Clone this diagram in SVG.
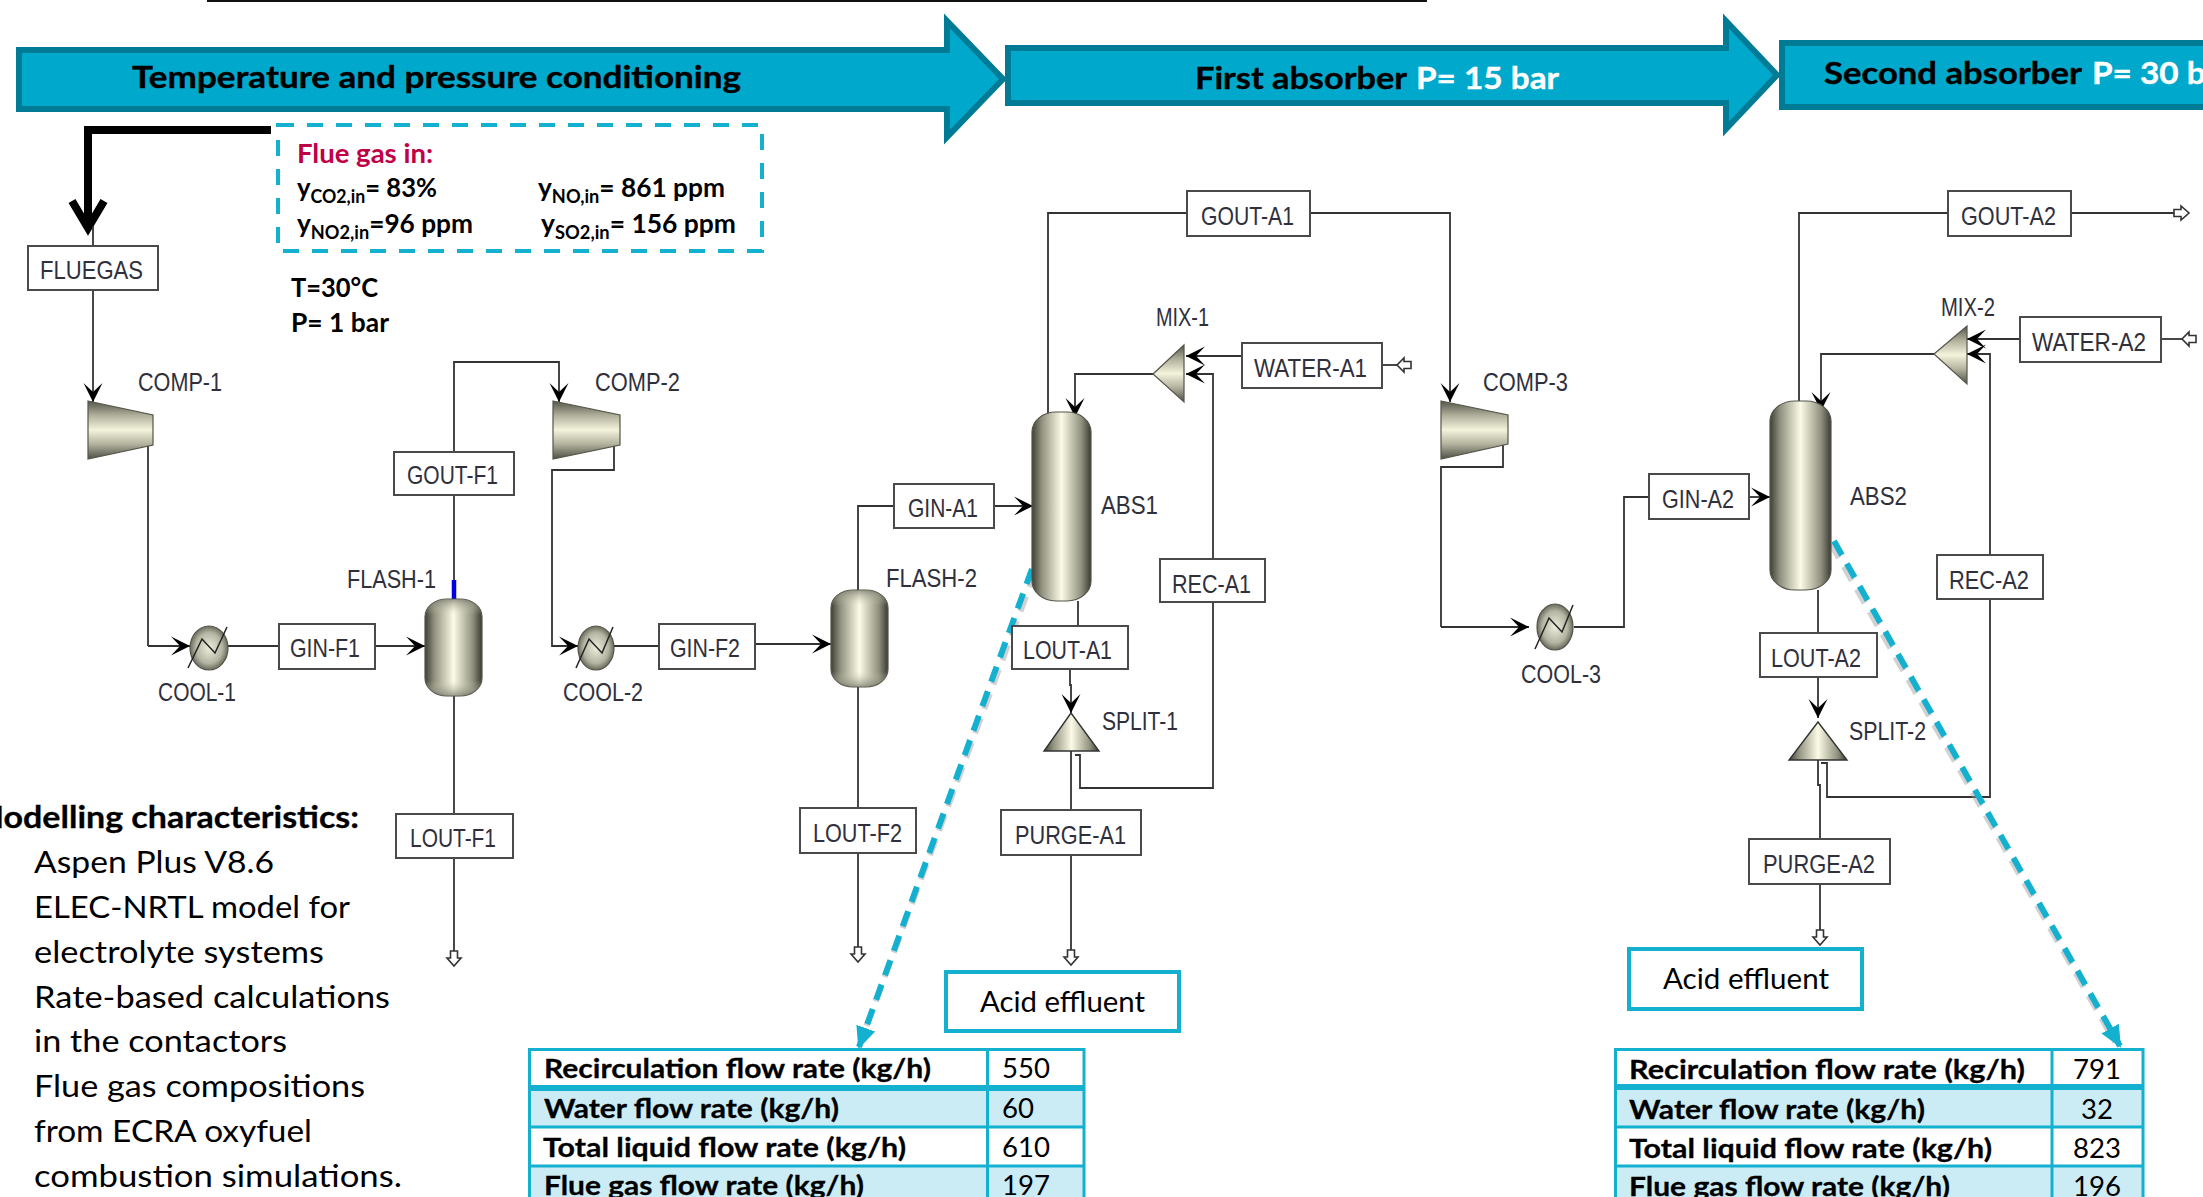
<svg xmlns="http://www.w3.org/2000/svg" width="2203" height="1197" viewBox="0 0 2203 1197">
<style>
text{font-family:Lato,"Liberation Sans",sans-serif;fill:#000}
.a{font-family:"Liberation Sans",Arial,sans-serif;font-size:25px;fill:#30303c}
.h{font-size:31px;font-weight:700;stroke:#000;stroke-width:.4}
.hw{font-size:31px;font-weight:700;fill:#fff;stroke:#fff;stroke-width:.4}
.b{font-size:26px;font-weight:700}
.r{font-size:30px}
.t{font-size:27px;font-weight:700;stroke:#000;stroke-width:.3}
.n{font-size:27px}
.box{fill:#fff;stroke:#4a4a4a;stroke-width:2}
.band{fill:#00a9cc;stroke:#007b95;stroke-width:6}
.teal{fill:#fff;stroke:#14b0d0;stroke-width:4}
.c{fill:none;stroke:#333;stroke-width:1.8}
.ca{fill:none;stroke:#333;stroke-width:1.8;marker-end:url(#barb)}
.ch{fill:none;stroke:#333;stroke-width:1.8;marker-end:url(#hollow)}
.tl{stroke:#14b0d0;stroke-width:3;fill:none}
.rowa{fill:#cbecf4}
.ves{stroke:#55554a;stroke-width:1.2}
.cap{stroke:none}
</style>
<defs>
<marker id="barb" markerUnits="userSpaceOnUse" markerWidth="24" markerHeight="24" refX="20" refY="12" orient="auto"><path d="M1,2.500 L20,12 L1,21.500 L10,12 Z" fill="#000"/></marker>
<marker id="hollow" markerUnits="userSpaceOnUse" markerWidth="18" markerHeight="18" refX="1" refY="9" orient="auto"><path d="M1,5.500 H8 V2 L16,9 L8,16 V12.500 H1 Z" fill="#fff" stroke="#333" stroke-width="1.600"/></marker>
<marker id="tealhead" markerUnits="userSpaceOnUse" markerWidth="26" markerHeight="26" refX="20" refY="13" orient="auto"><path d="M0,3 L22,13 L0,23 Z" fill="#14b0d0"/></marker>
<linearGradient id="gh"><stop offset="0" stop-color="#3f3f36"/><stop offset=".16" stop-color="#8f8f7e"/><stop offset=".5" stop-color="#fbfbe6"/><stop offset=".84" stop-color="#8f8f7e"/><stop offset="1" stop-color="#3a3a32"/></linearGradient>
<linearGradient id="gv" x2="0" y2="1"><stop offset="0" stop-color="#55554a"/><stop offset=".25" stop-color="#b0b09c"/><stop offset=".5" stop-color="#f4f4dc"/><stop offset=".75" stop-color="#b0b09c"/><stop offset="1" stop-color="#4f4f45"/></linearGradient>
<linearGradient id="gc" x2="0" y2="1"><stop offset="0" stop-color="#77776a" stop-opacity=".75"/><stop offset=".16" stop-color="#cfcfb8" stop-opacity="0"/><stop offset=".84" stop-color="#cfcfb8" stop-opacity="0"/><stop offset="1" stop-color="#77776a" stop-opacity=".75"/></linearGradient>
<radialGradient id="gr"><stop offset="0" stop-color="#eeeedc"/><stop offset=".7" stop-color="#b4b4a2"/><stop offset="1" stop-color="#6b6b5e"/></radialGradient>
</defs>

<line x1="207" y1="0.5" x2="1427" y2="0.5" stroke="#111" stroke-width="3"/>

<g id="band-1"><path class="band" d="M19,50 H947 V21 L1003,79 L947,137 V109 H19 Z"/><text class="h" x="132" y="88" textLength="609" lengthAdjust="spacingAndGlyphs">Temperature and pressure conditioning</text></g>
<g id="band-2"><path class="band" d="M1008,48 H1726 V21 L1777,75 L1726,129 V103 H1008 Z"/><text class="h" x="1195" y="89" textLength="212" lengthAdjust="spacingAndGlyphs">First absorber</text><text class="hw" x="1416" y="89" textLength="143" lengthAdjust="spacingAndGlyphs">P= 15 bar</text></g>
<g id="band-3"><rect class="band" x="1782" y="43" width="440" height="64"/><text class="h" x="1824" y="84" textLength="258" lengthAdjust="spacingAndGlyphs">Second absorber</text><text class="hw" x="2092" y="84" textLength="143" lengthAdjust="spacingAndGlyphs">P= 30 bar</text></g>

<g id="connectors">
<path d="M271,130 H88 V228" fill="none" stroke="#000" stroke-width="8"/>
<path d="M72,201 L88,228 L104,201" fill="none" stroke="#000" stroke-width="8"/>
<path class="c" d="M93,226 V246"/>
<path class="ca" d="M93,290 V402"/>
<path class="c" d="M148,445 V646"/><path class="ca" d="M148,646 H190"/>
<path class="c" d="M228,646 H279"/><path class="ca" d="M375,646 H425"/>
<path class="c" d="M454,495 V582"/>
<path d="M454,580 V600" stroke="#0000e0" stroke-width="4.500" fill="none"/>
<path class="ca" d="M454,452 V362 H559 V402"/>
<path class="c" d="M454,696 V814"/><path class="ch" d="M454,858 V951"/>
<path class="ca" d="M614,445 V470 H552 V646 H578"/>
<path class="c" d="M614,646 H659"/><path class="ca" d="M755,644 H831"/>
<path class="c" d="M858,590 V506 H894"/><path class="ca" d="M994,506 H1033"/>
<path class="c" d="M858,687 V808"/><path class="ch" d="M858,853 V947"/>
<path class="c" d="M1048,414 V213 H1187"/>
<path class="ca" d="M1310,213 H1450 V402"/>
<path class="ca" d="M1153,374 H1075 V417"/>
<path class="ca" d="M1242,356 H1186"/>
<path class="ca" d="M1213,559 V374 H1186"/>
<path class="c" d="M1382,365 H1397"/>
<path d="M1411,361.500 H1404 V358 L1397,365 L1404,372 V368.500 H1411 Z" fill="#fff" stroke="#333" stroke-width="1.600"/>
<path class="c" d="M1078,601 V626"/>
<path class="ca" d="M1070,669 V685 H1071 V713"/>
<path class="c" d="M1213,602 V788 H1080 V755 H1075"/>
<path class="c" d="M1071,751 V810"/><path class="ch" d="M1071,855 V950"/>
<path class="c" d="M1503,444 V467 H1441 V627"/><path class="ca" d="M1441,627 H1529"/>
<path class="c" d="M1574,627 H1624 V497 H1649"/><path class="ca" d="M1749,497 H1770"/>
<path class="c" d="M1799,401 V213 H1947"/><path class="ch" d="M2071,213 H2174"/>
<path class="ca" d="M1934,354 H1821 V411"/>
<path class="ca" d="M2020,339 H1967"/>
<path class="ca" d="M1990,555 V354 H1967"/>
<path class="c" d="M2161,339 H2182"/>
<path d="M2196,335.500 H2189 V332 L2182,339 L2189,346 V342.500 H2196 Z" fill="#fff" stroke="#333" stroke-width="1.600"/>
<path class="c" d="M1818,590 V633"/><path class="ca" d="M1818,677 V718"/>
<path class="c" d="M1990,599 V797 H1827 V763 H1821"/>
<path class="c" d="M1818,760 V785 H1820 V839"/><path class="ch" d="M1820,884 V930"/>
<path d="M1035,572 L862,1038" stroke="#999" stroke-opacity=".45" stroke-width="6" stroke-dasharray="16 10" fill="none"/>
<path d="M1032,569 L859,1047" stroke="#14b0d0" stroke-width="6" stroke-dasharray="16 10" fill="none" marker-end="url(#tealhead)"/>
<path d="M1831,544 L2115,1042" stroke="#999" stroke-opacity=".45" stroke-width="6" stroke-dasharray="16 10" fill="none"/>
<path d="M1834,541 L2120,1046" stroke="#14b0d0" stroke-width="6" stroke-dasharray="16 10" fill="none" marker-end="url(#tealhead)"/>
</g>

<g id="flue-gas-in">
<rect x="278" y="125" width="484" height="126" fill="none" stroke="#14b0d0" stroke-width="4" stroke-dasharray="16 13"/>
<text class="b" x="297" y="163" textLength="136" lengthAdjust="spacingAndGlyphs" style="fill:#c00045">Flue gas in:</text>
<text class="b" x="297" y="197" textLength="140" lengthAdjust="spacingAndGlyphs">y<tspan font-size="18" dy="6">CO2,in</tspan><tspan dy="-6">= 83%</tspan></text>
<text class="b" x="538" y="197" textLength="187" lengthAdjust="spacingAndGlyphs">y<tspan font-size="18" dy="6">NO,in</tspan><tspan dy="-6">= 861 ppm</tspan></text>
<text class="b" x="297" y="233" textLength="176" lengthAdjust="spacingAndGlyphs">y<tspan font-size="18" dy="6">NO2,in</tspan><tspan dy="-6">=96 ppm</tspan></text>
<text class="b" x="541" y="233" textLength="195" lengthAdjust="spacingAndGlyphs">y<tspan font-size="18" dy="6">SO2,in</tspan><tspan dy="-6">= 156 ppm</tspan></text>
<text class="b" x="291" y="297" textLength="87" lengthAdjust="spacingAndGlyphs">T=30°C</text>
<text class="b" x="291" y="332" textLength="98" lengthAdjust="spacingAndGlyphs">P= 1 bar</text>
</g>

<g id="FLUEGAS"><rect class="box" x="28" y="246" width="130" height="44"/><text class="a" x="40" y="279" textLength="103" lengthAdjust="spacingAndGlyphs">FLUEGAS</text></g>
<g id="COMP-1"><path class="ves" d="M88,401 L153,415 V445 L88,459 Z" fill="url(#gv)"/><text class="a" x="138" y="391" textLength="84" lengthAdjust="spacingAndGlyphs">COMP-1</text></g>
<g id="COOL-1"><ellipse class="ves" cx="209" cy="648" rx="19" ry="22" fill="url(#gr)"/><path d="M188,668 L202,639 L215,653 L227,627" fill="none" stroke="#222" stroke-width="1.500"/><text class="a" x="158" y="701" textLength="78" lengthAdjust="spacingAndGlyphs">COOL-1</text></g>
<g id="GIN-F1"><rect class="box" x="279" y="624" width="96" height="45"/><text class="a" x="290" y="657" textLength="70" lengthAdjust="spacingAndGlyphs">GIN-F1</text></g>
<g id="FLASH-1"><rect class="ves" x="425" y="599" width="57" height="97" rx="22" ry="18" fill="url(#gh)"/><rect class="cap" x="425" y="599" width="57" height="97" rx="22" ry="18" fill="url(#gc)"/><text class="a" x="347" y="588" textLength="89" lengthAdjust="spacingAndGlyphs">FLASH-1</text></g>
<g id="GOUT-F1"><rect class="box" x="394" y="452" width="120" height="43"/><text class="a" x="407" y="484" textLength="91" lengthAdjust="spacingAndGlyphs">GOUT-F1</text></g>
<g id="LOUT-F1"><rect class="box" x="396" y="814" width="117" height="44"/><text class="a" x="410" y="847" textLength="86" lengthAdjust="spacingAndGlyphs">LOUT-F1</text></g>
<g id="COMP-2"><path class="ves" d="M553,401 L620,415 V445 L553,459 Z" fill="url(#gv)"/><text class="a" x="595" y="391" textLength="85" lengthAdjust="spacingAndGlyphs">COMP-2</text></g>
<g id="COOL-2"><ellipse class="ves" cx="596" cy="648" rx="18" ry="22" fill="url(#gr)"/><path d="M576,668 L589,639 L602,653 L613,627" fill="none" stroke="#222" stroke-width="1.500"/><text class="a" x="563" y="701" textLength="80" lengthAdjust="spacingAndGlyphs">COOL-2</text></g>
<g id="GIN-F2"><rect class="box" x="659" y="624" width="96" height="45"/><text class="a" x="670" y="657" textLength="70" lengthAdjust="spacingAndGlyphs">GIN-F2</text></g>
<g id="FLASH-2"><rect class="ves" x="831" y="590" width="57" height="97" rx="22" ry="18" fill="url(#gh)"/><rect class="cap" x="831" y="590" width="57" height="97" rx="22" ry="18" fill="url(#gc)"/><text class="a" x="886" y="587" textLength="91" lengthAdjust="spacingAndGlyphs">FLASH-2</text></g>
<g id="GIN-A1"><rect class="box" x="894" y="484" width="100" height="44"/><text class="a" x="908" y="517" textLength="70" lengthAdjust="spacingAndGlyphs">GIN-A1</text></g>
<g id="LOUT-F2"><rect class="box" x="800" y="808" width="116" height="45"/><text class="a" x="813" y="842" textLength="89" lengthAdjust="spacingAndGlyphs">LOUT-F2</text></g>
<g id="GOUT-A1"><rect class="box" x="1187" y="191" width="123" height="45"/><text class="a" x="1201" y="225" textLength="93" lengthAdjust="spacingAndGlyphs">GOUT-A1</text></g>
<g id="ABS1"><rect class="ves" x="1032" y="412" width="59" height="189" rx="24" ry="20" fill="url(#gh)"/><text class="a" x="1101" y="514" textLength="57" lengthAdjust="spacingAndGlyphs">ABS1</text></g>
<g id="MIX-1"><path class="ves" d="M1153,374 L1184,345 V402 Z" fill="url(#gv)"/><text class="a" x="1156" y="326" textLength="53" lengthAdjust="spacingAndGlyphs">MIX-1</text></g>
<g id="WATER-A1"><rect class="box" x="1242" y="343" width="140" height="45"/><text class="a" x="1254" y="377" textLength="113" lengthAdjust="spacingAndGlyphs">WATER-A1</text></g>
<g id="REC-A1"><rect class="box" x="1160" y="559" width="105" height="43"/><text class="a" x="1172" y="593" textLength="79" lengthAdjust="spacingAndGlyphs">REC-A1</text></g>
<g id="LOUT-A1"><rect class="box" x="1012" y="626" width="116" height="43"/><text class="a" x="1023" y="659" textLength="89" lengthAdjust="spacingAndGlyphs">LOUT-A1</text></g>
<g id="SPLIT-1"><path d="M1071,713 L1099,751 H1044 Z" fill="url(#gh)" stroke="#333" stroke-width="1.400"/><text class="a" x="1102" y="730" textLength="76" lengthAdjust="spacingAndGlyphs">SPLIT-1</text></g>
<g id="PURGE-A1"><rect class="box" x="1001" y="810" width="140" height="45"/><text class="a" x="1015" y="844" textLength="111" lengthAdjust="spacingAndGlyphs">PURGE-A1</text></g>
<g id="acid-effluent-1"><rect class="teal" x="946" y="972" width="233" height="59"/><text class="r" style="font-size:29px" x="980" y="1012" textLength="165" lengthAdjust="spacingAndGlyphs">Acid effluent</text></g>
<g id="COMP-3"><path class="ves" d="M1441,401 L1508,415 V444 L1441,459 Z" fill="url(#gv)"/><text class="a" x="1483" y="391" textLength="85" lengthAdjust="spacingAndGlyphs">COMP-3</text></g>
<g id="COOL-3"><ellipse class="ves" cx="1555" cy="627" rx="18" ry="23" fill="url(#gr)"/><path d="M1535,649 L1549,618 L1562,632 L1573,605" fill="none" stroke="#222" stroke-width="1.500"/><text class="a" x="1521" y="683" textLength="80" lengthAdjust="spacingAndGlyphs">COOL-3</text></g>
<g id="GIN-A2"><rect class="box" x="1649" y="474" width="100" height="45"/><text class="a" x="1662" y="508" textLength="72" lengthAdjust="spacingAndGlyphs">GIN-A2</text></g>
<g id="ABS2"><rect class="ves" x="1770" y="401" width="61" height="189" rx="25" ry="20" fill="url(#gh)"/><text class="a" x="1850" y="505" textLength="57" lengthAdjust="spacingAndGlyphs">ABS2</text></g>
<g id="GOUT-A2"><rect class="box" x="1948" y="191" width="123" height="45"/><text class="a" x="1961" y="225" textLength="95" lengthAdjust="spacingAndGlyphs">GOUT-A2</text></g>
<g id="MIX-2"><path class="ves" d="M1934,354 L1967,326 V384 Z" fill="url(#gv)"/><text class="a" x="1941" y="316" textLength="54" lengthAdjust="spacingAndGlyphs">MIX-2</text></g>
<g id="WATER-A2"><rect class="box" x="2020" y="317" width="141" height="45"/><text class="a" x="2032" y="351" textLength="114" lengthAdjust="spacingAndGlyphs">WATER-A2</text></g>
<g id="REC-A2"><rect class="box" x="1937" y="555" width="106" height="44"/><text class="a" x="1949" y="589" textLength="80" lengthAdjust="spacingAndGlyphs">REC-A2</text></g>
<g id="LOUT-A2"><rect class="box" x="1760" y="633" width="117" height="44"/><text class="a" x="1771" y="667" textLength="90" lengthAdjust="spacingAndGlyphs">LOUT-A2</text></g>
<g id="SPLIT-2"><path d="M1818,722 L1847,760 H1789 Z" fill="url(#gh)" stroke="#333" stroke-width="1.400"/><text class="a" x="1849" y="740" textLength="77" lengthAdjust="spacingAndGlyphs">SPLIT-2</text></g>
<g id="PURGE-A2"><rect class="box" x="1749" y="839" width="141" height="45"/><text class="a" x="1763" y="873" textLength="112" lengthAdjust="spacingAndGlyphs">PURGE-A2</text></g>
<g id="acid-effluent-2"><rect class="teal" x="1629" y="949" width="233" height="60"/><text class="r" style="font-size:29px" x="1663" y="989" textLength="166" lengthAdjust="spacingAndGlyphs">Acid effluent</text></g>

<g id="modelling-characteristics">
<text class="t" style="font-size:30px" x="-28" y="828" textLength="387" lengthAdjust="spacingAndGlyphs">Modelling characteristics:</text>
<text class="r" x="34" y="873" textLength="240" lengthAdjust="spacingAndGlyphs">Aspen Plus V8.6</text>
<text class="r" x="34" y="918" textLength="316" lengthAdjust="spacingAndGlyphs">ELEC-NRTL model for</text>
<text class="r" x="34" y="963" textLength="290" lengthAdjust="spacingAndGlyphs">electrolyte systems</text>
<text class="r" x="34" y="1008" textLength="356" lengthAdjust="spacingAndGlyphs">Rate-based calculations</text>
<text class="r" x="34" y="1052" textLength="253" lengthAdjust="spacingAndGlyphs">in the contactors</text>
<text class="r" x="34" y="1097" textLength="331" lengthAdjust="spacingAndGlyphs">Flue gas compositions</text>
<text class="r" x="34" y="1142" textLength="278" lengthAdjust="spacingAndGlyphs">from ECRA oxyfuel</text>
<text class="r" x="34" y="1187" textLength="368" lengthAdjust="spacingAndGlyphs">combustion simulations.</text>
</g>

<g id="table-1">
<rect x="528" y="1048" width="557" height="160" fill="#fff"/>
<rect class="rowa" x="528" y="1088" width="557" height="39"/><rect class="rowa" x="528" y="1166" width="557" height="42"/>
<path class="tl" d="M529.500,1200 V1049.500 H1084 V1200 M987.500,1049 V1200 M528,1127 H1085 M528,1166 H1085"/>
<path d="M528,1088 H1085" stroke="#14b0d0" stroke-width="6"/>
<text class="t" x="544" y="1078" textLength="387" lengthAdjust="spacingAndGlyphs">Recirculation flow rate (kg/h)</text>
<text class="t" x="544" y="1118" textLength="295" lengthAdjust="spacingAndGlyphs">Water flow rate (kg/h)</text>
<text class="t" x="543" y="1157" textLength="363" lengthAdjust="spacingAndGlyphs">Total liquid flow rate (kg/h)</text>
<text class="t" x="544" y="1195" textLength="320" lengthAdjust="spacingAndGlyphs">Flue gas flow rate (kg/h)</text>
<text class="n" x="1002" y="1078" textLength="48" lengthAdjust="spacingAndGlyphs">550</text>
<text class="n" x="1002" y="1118" textLength="32" lengthAdjust="spacingAndGlyphs">60</text>
<text class="n" x="1002" y="1157" textLength="48" lengthAdjust="spacingAndGlyphs">610</text>
<text class="n" x="1002" y="1195" textLength="48" lengthAdjust="spacingAndGlyphs">197</text>
</g>

<g id="table-2">
<rect x="1614" y="1048" width="530" height="160" fill="#fff"/>
<rect class="rowa" x="1614" y="1087" width="530" height="40"/><rect class="rowa" x="1614" y="1166" width="530" height="42"/>
<path class="tl" d="M1615.500,1200 V1049.500 H2143 V1200 M2052,1049 V1200 M1614,1127 H2144 M1614,1166 H2144"/>
<path d="M1614,1087 H2144" stroke="#14b0d0" stroke-width="6"/>
<text class="t" x="1629" y="1079" textLength="396" lengthAdjust="spacingAndGlyphs">Recirculation flow rate  (kg/h)</text>
<text class="t" x="1629" y="1119" textLength="296" lengthAdjust="spacingAndGlyphs">Water flow rate (kg/h)</text>
<text class="t" x="1629" y="1158" textLength="363" lengthAdjust="spacingAndGlyphs">Total liquid flow rate (kg/h)</text>
<text class="t" x="1629" y="1196" textLength="321" lengthAdjust="spacingAndGlyphs">Flue gas flow rate (kg/h)</text>
<text class="n" x="2073" y="1079" textLength="48" lengthAdjust="spacingAndGlyphs">791</text>
<text class="n" x="2081" y="1119" textLength="32" lengthAdjust="spacingAndGlyphs">32</text>
<text class="n" x="2073" y="1158" textLength="48" lengthAdjust="spacingAndGlyphs">823</text>
<text class="n" x="2073" y="1196" textLength="48" lengthAdjust="spacingAndGlyphs">196</text>
</g>
</svg>
